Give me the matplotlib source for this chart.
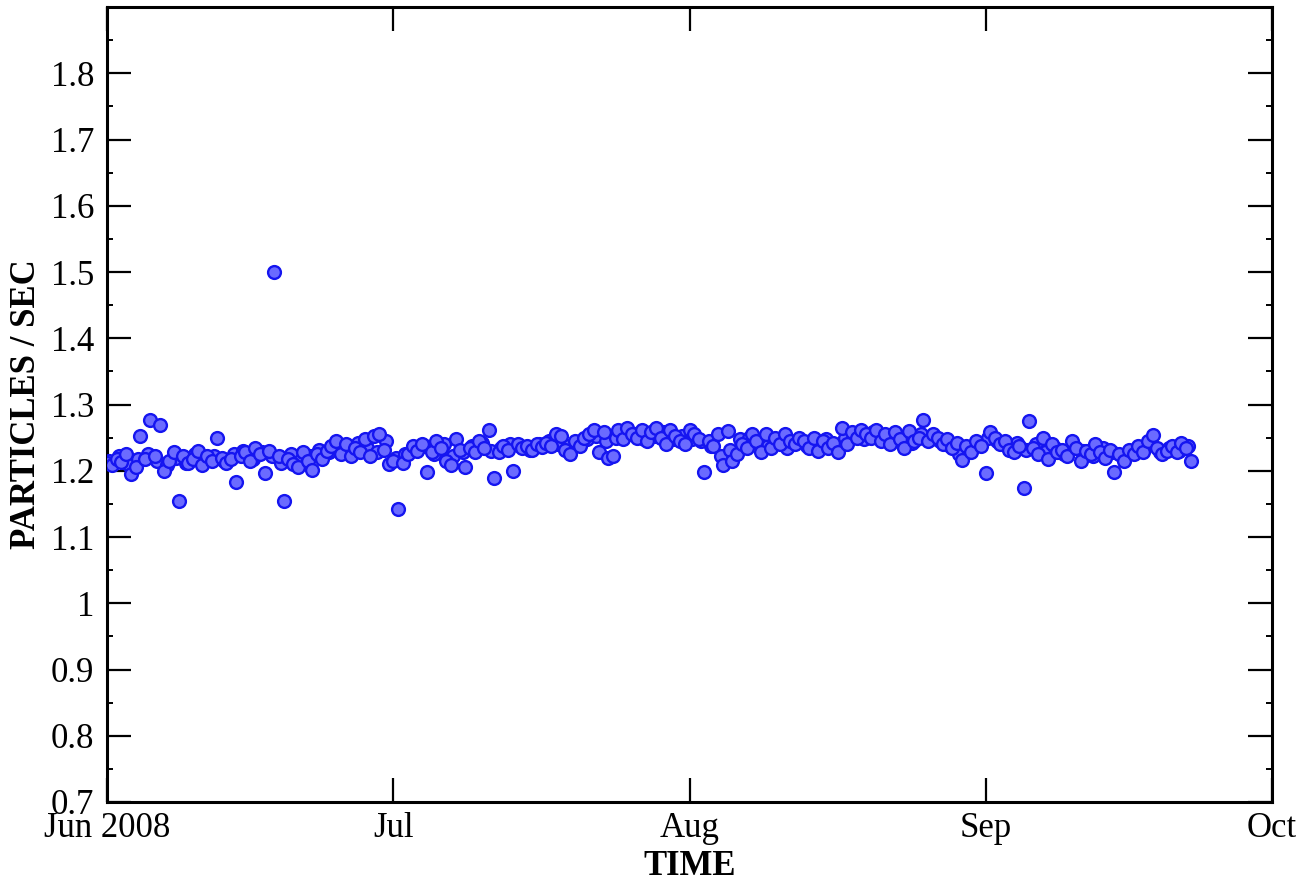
import matplotlib
matplotlib.use("Agg")
import matplotlib.pyplot as plt
import matplotlib.dates as mdates
from matplotlib.ticker import MultipleLocator, FixedLocator, FuncFormatter
import pandas as pd

plt.rcParams['font.family'] = ['Liberation Serif', 'DejaVu Serif']

# 12-hourly readings starting 1 Jun 2008
start = '2008-06-01'
rate = [
    # days 0-11.5
    1.212, 1.208, 1.218, 1.214, 1.225, 1.195, 1.205, 1.252, 1.218, 1.276, 1.222, 1.269,
    1.200, 1.215, 1.228, 1.154, 1.222, 1.212, 1.218, 1.230, 1.208, 1.222, 1.215, 1.249,
    # days 12-23.5
    1.220, 1.212, 1.218, 1.183, 1.222, 1.228, 1.215, 1.235, 1.225, 1.196, 1.230, 1.500,
    1.222, 1.154, 1.218, 1.210, 1.205, 1.228, 1.215, 1.201, 1.225, 1.218, 1.230, 1.238,
    # days 24-35.5
    1.245, 1.225, 1.240, 1.222, 1.235, 1.228, 1.248, 1.222, 1.252, 1.256, 1.232, 1.210,
    1.215, 1.142, 1.212, 1.225, 1.238, 1.230, 1.240, 1.198, 1.228, 1.245, 1.235, 1.215,
    # days 36-47.5
    1.208, 1.248, 1.232, 1.205, 1.235, 1.228, 1.245, 1.235, 1.261, 1.189, 1.228, 1.238,
    1.232, 1.199, 1.240, 1.235, 1.238, 1.232, 1.240, 1.236, 1.242, 1.238, 1.255, 1.252,
    # days 48-59.5
    1.232, 1.225, 1.245, 1.238, 1.250, 1.255, 1.262, 1.228, 1.258, 1.220, 1.222, 1.262,
    1.248, 1.265, 1.255, 1.250, 1.262, 1.245, 1.258, 1.265, 1.250, 1.240, 1.262, 1.252,
    # days 60-71.5
    1.245, 1.240, 1.262, 1.255, 1.248, 1.198, 1.245, 1.238, 1.255, 1.209, 1.260, 1.215,
    1.225, 1.240, 1.235, 1.255, 1.245, 1.228, 1.255, 1.235, 1.250, 1.240, 1.255, 1.245,
    # days 72-83.5
    1.240, 1.250, 1.245, 1.235, 1.250, 1.230, 1.245, 1.235, 1.242, 1.228, 1.264, 1.240,
    1.258, 1.250, 1.262, 1.255, 1.250, 1.262, 1.245, 1.255, 1.240, 1.258, 1.248, 1.235,
    # days 84-95.5
    1.260, 1.245, 1.250, 1.276, 1.245, 1.255, 1.250, 1.240, 1.248, 1.235, 1.242, 1.216,
    1.238, 1.228, 1.245, 1.238, 1.196, 1.258, 1.250, 1.240, 1.245, 1.232, 1.228, 1.238,
    # days 96-107.5
    1.174, 1.275, 1.235, 1.225, 1.250, 1.218, 1.240, 1.228, 1.232, 1.222, 1.245, 1.235,
    1.215, 1.230, 1.225, 1.240, 1.228, 1.220, 1.232, 1.198, 1.225, 1.215, 1.232, 1.225,
    # days 108-113.5
    1.238, 1.228, 1.245, 1.254, 1.235, 1.225, 1.230, 1.238, 1.228, 1.242, 1.235, 1.215,
]

# extra daily readings taken at 06:00 (fill the dense band)
start_b = '2008-06-01 06:00'
rate_b = [
    1.215, 1.222, 1.210, 1.218, 1.225, 1.215, 1.208, 1.220, 1.212, 1.225, 1.218, 1.222,
    1.215, 1.225, 1.230, 1.218, 1.228, 1.222, 1.212, 1.225, 1.215, 1.222, 1.232, 1.228,
    1.238, 1.232, 1.242, 1.235, 1.228, 1.245, 1.220, 1.225, 1.232, 1.238, 1.225, 1.240,
    1.222, 1.228, 1.238, 1.242, 1.230, 1.235, 1.240, 1.238, 1.232, 1.240, 1.245, 1.240,
    1.238, 1.242, 1.248, 1.252, 1.245, 1.250, 1.258, 1.255, 1.248, 1.252, 1.258, 1.248,
    1.252, 1.248, 1.245, 1.238, 1.222, 1.232, 1.248, 1.250, 1.242, 1.238, 1.248, 1.235,
    1.245, 1.238, 1.242, 1.248, 1.235, 1.250, 1.255, 1.248, 1.258, 1.252, 1.245, 1.250,
    1.242, 1.255, 1.248, 1.245, 1.238, 1.225, 1.232, 1.240, 1.250, 1.245, 1.238, 1.242,
    1.232, 1.240, 1.228, 1.235, 1.225, 1.238, 1.230, 1.222, 1.235, 1.228, 1.222, 1.230,
    1.232, 1.240, 1.228, 1.235, 1.230, 1.238,
]

times = pd.date_range(start, periods=len(rate), freq='12h')
times_b = pd.date_range(start_b, periods=len(rate_b), freq='24h')

month_ticks = pd.to_datetime(['2008-06-01', '2008-07-01', '2008-08-01', '2008-09-01', '2008-10-01'])
month_labels = ['Jun 2008', 'Jul', 'Aug', 'Sep', 'Oct']
y_ticks = [0.7, 0.8, 0.9, 1.0, 1.1, 1.2, 1.3, 1.4, 1.5, 1.6, 1.7, 1.8]

fig = plt.figure(figsize=(13, 8.85), dpi=100)
ax = fig.add_axes([0.0823, 0.0938, 0.8962, 0.8982])

for t, r in [(times_b, rate_b), (times, rate)]:
    ax.scatter(t, r, s=85, facecolor='#6b6bff', edgecolor='#1515f0',
               linewidth=1.7, zorder=3)

ax.set_xlim(month_ticks[0], month_ticks[-1])
ax.set_ylim(0.7, 1.9)
ax.xaxis.set_major_locator(FixedLocator(mdates.date2num(month_ticks)))
ax.set_xticklabels(month_labels)
ax.yaxis.set_major_locator(FixedLocator(y_ticks))
ax.yaxis.set_minor_locator(MultipleLocator(0.05))
ax.yaxis.set_major_formatter(FuncFormatter(lambda v, p: '%g' % round(v, 2)))

ax.tick_params(axis='both', which='major', direction='in', length=17, width=1.6,
               labelsize=25, top=True, right=True)
ax.tick_params(axis='y', which='major', pad=9)
ax.tick_params(axis='x', which='major', pad=7)
ax.tick_params(axis='y', which='minor', direction='in', length=4, width=1.4,
               left=True, right=True)
for sp in ax.spines.values():
    sp.set_linewidth(2.2)

ax.set_xlabel('TIME', fontsize=25, fontweight='bold', labelpad=4)
ax.set_ylabel('PARTICLES / SEC', fontsize=25, fontweight='bold', labelpad=6)

fig.savefig('out.png', dpi=100)
